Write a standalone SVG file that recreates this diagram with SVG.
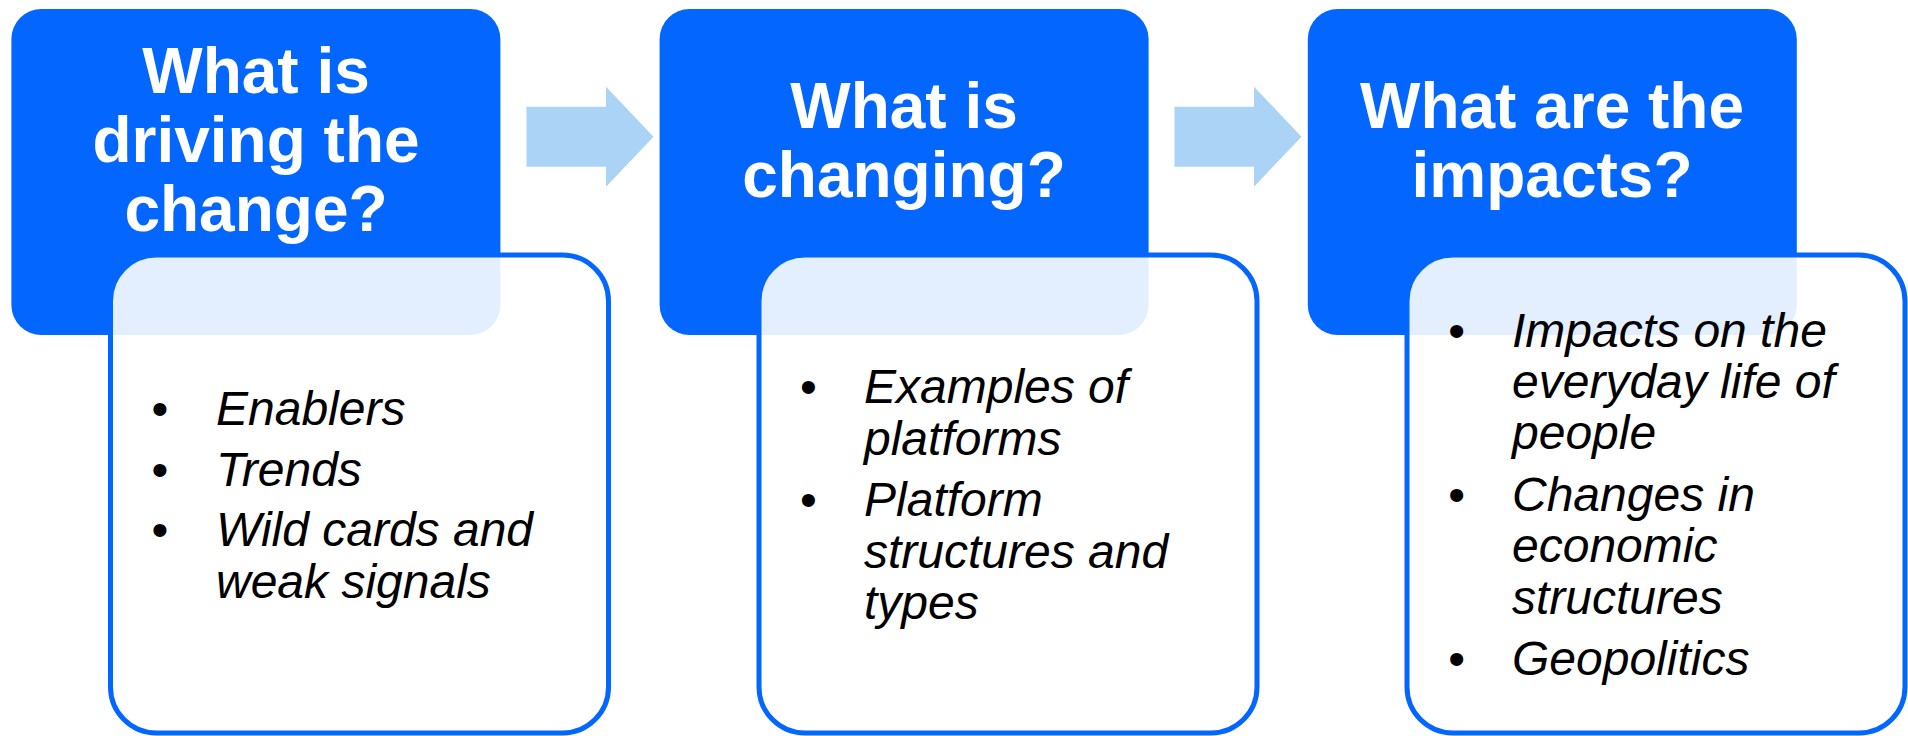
<svg xmlns="http://www.w3.org/2000/svg" width="1908" height="736" viewBox="0 0 1908 736">
<style>
.dark{fill:#0366FE}
.card{fill:#FFFFFF;fill-opacity:0.89;stroke:#0366FE;stroke-width:5}
.arrow{fill:#AAD3F5}
.head{font-family:"Liberation Sans",Arial,sans-serif;font-weight:bold;font-size:64px;fill:#FFFFFF;text-anchor:middle}
.item{font-family:"Liberation Sans",Arial,sans-serif;font-style:italic;font-size:48px;fill:#000000}
.dot{font-family:"Liberation Sans",Arial,sans-serif;font-size:48px;fill:#000000;text-anchor:middle}
</style>
<rect width="1908" height="736" fill="#FFFFFF"/>
<g id="connectors">
<polygon class="arrow" points="526.5,106.7 606,106.7 606,86.7 653.5,136.7 606,186.7 606,166.7 526.5,166.7"/>
<polygon class="arrow" points="1174.5,106.7 1254,106.7 1254,86.7 1301.5,136.7 1254,186.7 1254,166.7 1174.5,166.7"/>
</g>
<g id="node-drivers">
<rect class="dark" x="11.4" y="9" width="489" height="326" rx="30"/>
<text class="head" x="256" y="93">What is</text>
<text class="head" x="256" y="162">driving the</text>
<text class="head" x="256" y="231">change?</text>
<rect class="card" x="110.5" y="255" width="498" height="478" rx="46"/>
<text class="dot" x="160" y="425">•</text>
<text class="item" x="216" y="425">Enablers</text>
<text class="dot" x="160" y="486">•</text>
<text class="item" x="216" y="486">Trends</text>
<text class="dot" x="160" y="546">•</text>
<text class="item" x="216" y="546">Wild cards and</text>
<text class="item" x="216" y="598">weak signals</text>
</g>
<g id="node-changing">
<rect class="dark" x="659.6" y="9" width="489" height="326" rx="30"/>
<text class="head" x="904" y="127.5">What is</text>
<text class="head" x="904" y="196.7">changing?</text>
<rect class="card" x="759" y="255" width="498" height="478" rx="46"/>
<text class="dot" x="808.5" y="403">•</text>
<text class="item" x="864" y="403">Examples of</text>
<text class="item" x="864" y="454.5">platforms</text>
<text class="dot" x="808.5" y="516">•</text>
<text class="item" x="864" y="516">Platform</text>
<text class="item" x="864" y="567.5">structures and</text>
<text class="item" x="864" y="619">types</text>
</g>
<g id="node-impacts">
<rect class="dark" x="1307.8" y="9" width="489" height="326" rx="30"/>
<text class="head" x="1552" y="127.5">What are the</text>
<text class="head" x="1552" y="196.7">impacts?</text>
<rect class="card" x="1407" y="255" width="498" height="478" rx="46"/>
<text class="dot" x="1456.6" y="346.5">•</text>
<text class="item" x="1512" y="346.5">Impacts on the</text>
<text class="item" x="1512" y="397.5">everyday life of</text>
<text class="item" x="1512" y="449">people</text>
<text class="dot" x="1456.6" y="511">•</text>
<text class="item" x="1512" y="511">Changes in</text>
<text class="item" x="1512" y="562">economic</text>
<text class="item" x="1512" y="613.5">structures</text>
<text class="dot" x="1456.6" y="674.5">•</text>
<text class="item" x="1512" y="674.5">Geopolitics</text>
</g>
</svg>
